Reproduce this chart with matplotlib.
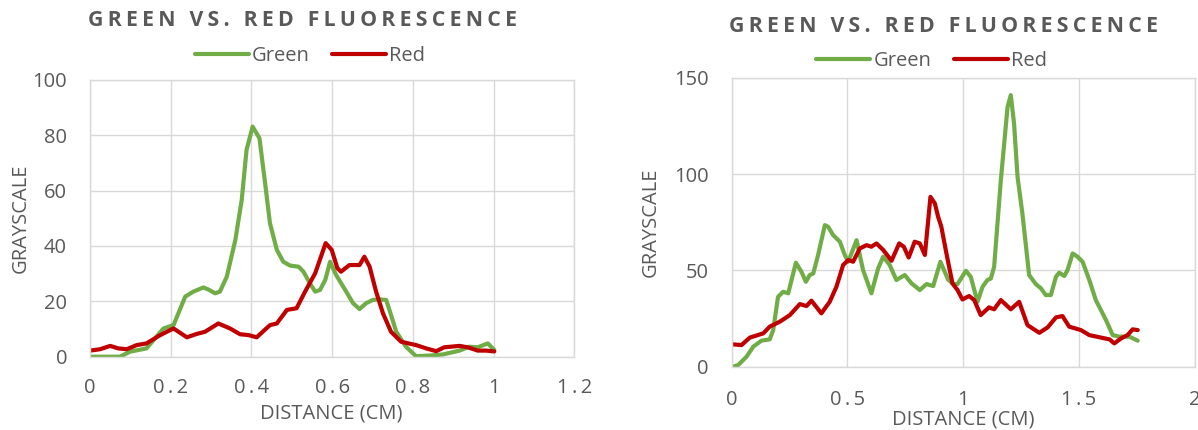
import matplotlib
matplotlib.use("Agg")
import matplotlib.pyplot as plt
from matplotlib.lines import Line2D

# ---------------- data ----------------
left_green_x = [0, 0.074, 0.099, 0.14, 0.182, 0.207, 0.236, 0.256, 0.281, 0.293, 0.31, 0.322,
                0.339, 0.36, 0.376, 0.388, 0.403, 0.42, 0.434, 0.446, 0.463, 0.479, 0.496,
                0.517, 0.529, 0.545, 0.558, 0.57, 0.583, 0.595, 0.61, 0.635, 0.652, 0.668,
                0.684, 0.701, 0.717, 0.734, 0.746, 0.759, 0.783, 0.808, 0.841, 0.874, 0.916,
                0.94, 0.961, 0.986, 1.002]
left_green_y = [0, 0, 1.8, 3, 10.2, 11.4, 21.7, 23.5, 25, 24.3, 22.9, 23.5, 28.9, 42, 56.6,
                74.7, 83.1, 78.9, 62.6, 48.2, 38.6, 34.3, 32.9, 32.5, 30.7, 26.5, 23.5, 24.1,
                27.7, 34.3, 29.5, 23.5, 19.3, 17.2, 19.3, 20.5, 20.7, 20.5, 15.1, 9.0, 3.6,
                0.2, 0.4, 0.8, 2.2, 3.6, 3.4, 4.8, 2.4]

left_red_x = [0, 0.025, 0.05, 0.07, 0.091, 0.116, 0.14, 0.174, 0.207, 0.24, 0.264, 0.285,
              0.318, 0.347, 0.372, 0.393, 0.413, 0.446, 0.463, 0.488, 0.512, 0.533, 0.558,
              0.584, 0.599, 0.613, 0.622, 0.643, 0.668, 0.68, 0.693, 0.709, 0.726, 0.746,
              0.771, 0.808, 0.833, 0.858, 0.878, 0.916, 0.936, 0.961, 0.982, 1.002]
left_red_y = [2.2, 2.7, 3.9, 3, 2.7, 4.2, 4.8, 7.8, 10.2, 7, 8.2, 9, 12, 10.2, 8.1, 7.8, 7,
              11.4, 12, 16.9, 17.5, 23.5, 30.1, 41, 38.6, 32, 30.7, 33.1, 33.1, 36.1, 32.5,
              23.5, 15.7, 9, 5.4, 4.2, 3, 2, 3.4, 3.9, 3.4, 2.2, 2.2, 1.9]

right_green_x = [0.007, 0.029, 0.065, 0.094, 0.129, 0.165, 0.18, 0.201, 0.223, 0.245, 0.278,
                 0.302, 0.321, 0.338, 0.353, 0.374, 0.403, 0.417, 0.439, 0.468, 0.489, 0.504,
                 0.54, 0.568, 0.604, 0.633, 0.655, 0.683, 0.712, 0.748, 0.777, 0.813, 0.842,
                 0.871, 0.902, 0.935, 0.957, 0.976, 1.012, 1.033, 1.062, 1.084, 1.105, 1.12,
                 1.134, 1.163, 1.192, 1.206, 1.22, 1.235, 1.256, 1.285, 1.314, 1.336, 1.357,
                 1.379, 1.401, 1.415, 1.437, 1.451, 1.473, 1.494, 1.516, 1.545, 1.573, 1.617,
                 1.646, 1.674, 1.718, 1.754]
right_green_y = [0, 0.9, 5.2, 10.4, 13.5, 14.2, 19, 36.3, 38.9, 38.1, 54, 49.3, 44.1, 47.6,
                 48.4, 58, 73.5, 72.7, 68.3, 64.9, 58, 54.5, 65.7, 50.2, 38.1, 51, 57.1, 52.8,
                 45, 47.6, 43.3, 39.8, 42.9, 41.9, 54.5, 45.3, 42.9, 42.9, 49.8, 46.7, 33.7,
                 41.5, 45, 45.8, 51.9, 96.9, 134.9, 141, 126.3, 98.6, 79.6, 47.6, 42.9, 40.7,
                 37.2, 37.2, 46.7, 48.8, 47.1, 50.2, 58.8, 57.1, 54.5, 45, 34.6, 24.2, 16.4,
                 15.6, 15.6, 13.5]

right_red_x = [0.007, 0.043, 0.079, 0.137, 0.165, 0.209, 0.252, 0.295, 0.324, 0.345, 0.388,
               0.424, 0.453, 0.482, 0.504, 0.525, 0.554, 0.583, 0.604, 0.626, 0.655, 0.691,
               0.724, 0.744, 0.765, 0.791, 0.813, 0.835, 0.859, 0.878, 0.892, 0.906, 0.928,
               0.954, 0.976, 0.997, 1.026, 1.048, 1.076, 1.112, 1.134, 1.163, 1.206, 1.242,
               1.278, 1.329, 1.365, 1.401, 1.429, 1.458, 1.509, 1.545, 1.596, 1.632, 1.653,
               1.682, 1.71, 1.732, 1.754]
right_red_y = [11.6, 11.2, 15.1, 17.3, 20.8, 23.4, 26.8, 32.5, 31.5, 34.3, 27.7, 33.7, 41.5,
               52.8, 55.4, 54.5, 61.4, 63.1, 62.3, 64, 60.6, 55, 64, 62.3, 56.7, 64.9, 64, 58,
               88.2, 84.8, 77.9, 72.7, 58.8, 43.3, 39.8, 34.9, 36.7, 34.6, 26.8, 30.8, 29.8,
               34.6, 29.8, 33.7, 21.6, 17.6, 20.4, 25.6, 26.3, 20.8, 19, 16.4, 15.1, 14.2,
               12.1, 14.7, 16.4, 19.4, 19]

left_xticks = [0, 0.2, 0.4, 0.6, 0.8, 1.0, 1.2]
left_xlabels = ["0", "0.2", "0.4", "0.6", "0.8", "1", "1.2"]
left_yticks = [0, 20, 40, 60, 80, 100]
right_xticks = [0, 0.5, 1.0, 1.5, 2.0]
right_xlabels = ["0", "0.5", "1", "1.5", "2"]
right_yticks = [0, 50, 100, 150]

title_text = "GREEN VS. RED FLUORESCENCE"
series_names = ["Green", "Red"]
xlabel_text = "DISTANCE (CM)"
ylabel_text = "GRAYSCALE"

# ---------------- style ----------------
GREEN = "#70AD47"
RED = "#C00000"
TXT = "#595959"
GRID = "#D9D9D9"
FAM = ["Open Sans", "DejaVu Sans"]
FS = 14.5
LW = 3.0

plt.rcParams["font.family"] = FAM

W, H = 1198, 430
fig = plt.figure(figsize=(W / 100, H / 100), dpi=100)


def spaced(s, sep="\u2009"):
    return sep.join(list(s))


def style_axes(ax, xticks, xlabels, yticks, xlim, ylim, xpad, ypad):
    ax.set_xlim(*xlim)
    ax.set_ylim(*ylim)
    ax.set_xticks(xticks)
    ax.set_xticklabels([spaced(l) for l in xlabels])
    ax.set_yticks(yticks)
    ax.set_yticklabels([str(v) for v in yticks])
    ax.tick_params(axis="x", length=0, pad=xpad, labelsize=FS, labelcolor=TXT)
    ax.tick_params(axis="y", length=0, pad=ypad, labelsize=FS, labelcolor=TXT)
    ax.grid(True, color=GRID, linewidth=1.0)
    ax.set_axisbelow(True)
    for sp in ax.spines.values():
        sp.set_color(GRID)
        sp.set_linewidth(1.0)


def draw(ax, gx, gy, rx, ry):
    ax.plot(gx, gy, color=GREEN, lw=LW, solid_joinstyle="round", solid_capstyle="round",
            label=series_names[0])
    ax.plot(rx, ry, color=RED, lw=LW, solid_joinstyle="round", solid_capstyle="round",
            label=series_names[1])


axL = fig.add_axes([90 / W, 1 - 356.7 / H, 484.2 / W, 276.9 / H])
draw(axL, left_green_x, left_green_y, left_red_x, left_red_y)
style_axes(axL, left_xticks, left_xlabels, left_yticks, (0, 1.2), (0, 100), 15, 16.5)

axR = fig.add_axes([731.5 / W, 1 - 366.7 / H, 463.2 / W, 288.9 / H])
draw(axR, right_green_x, right_green_y, right_red_x, right_red_y)
style_axes(axR, right_xticks, right_xlabels, right_yticks, (0, 2.0), (0, 150), 17, 16.2)

# titles
for cx, cy in [(302.5, 21), (943.5, 26.3)]:
    fig.text(cx / W, 1 - cy / H, spaced(title_text, "\u2009"), ha="center", va="center",
             fontsize=15.3, fontweight="bold", color=TXT)

# legends
handles = [Line2D([], [], color=GREEN, lw=LW, solid_capstyle="round"),
           Line2D([], [], color=RED, lw=LW, solid_capstyle="round")]
for cx, cy in [(310, 55.7), (931.5, 61)]:
    fig.legend(handles, series_names, loc="center", bbox_to_anchor=(cx / W, 1 - cy / H),
               ncol=2, frameon=False, fontsize=FS, labelcolor=TXT, handlelength=2.7,
               handletextpad=0.15, columnspacing=1.1, borderpad=0, borderaxespad=0)

# axis labels
fig.text(20.5 / W, 1 - 218 / H, ylabel_text, rotation=90, ha="center", va="center",
         fontsize=FS, color=TXT)
fig.text(651 / W, 1 - 222 / H, ylabel_text, rotation=90, ha="center", va="center",
         fontsize=FS, color=TXT)
fig.text(331 / W, 1 - 414 / H, xlabel_text, ha="center", va="center", fontsize=FS, color=TXT)
fig.text(963 / W, 1 - 420 / H, xlabel_text, ha="center", va="center", fontsize=FS, color=TXT)

fig.savefig("out.png", dpi=100)
